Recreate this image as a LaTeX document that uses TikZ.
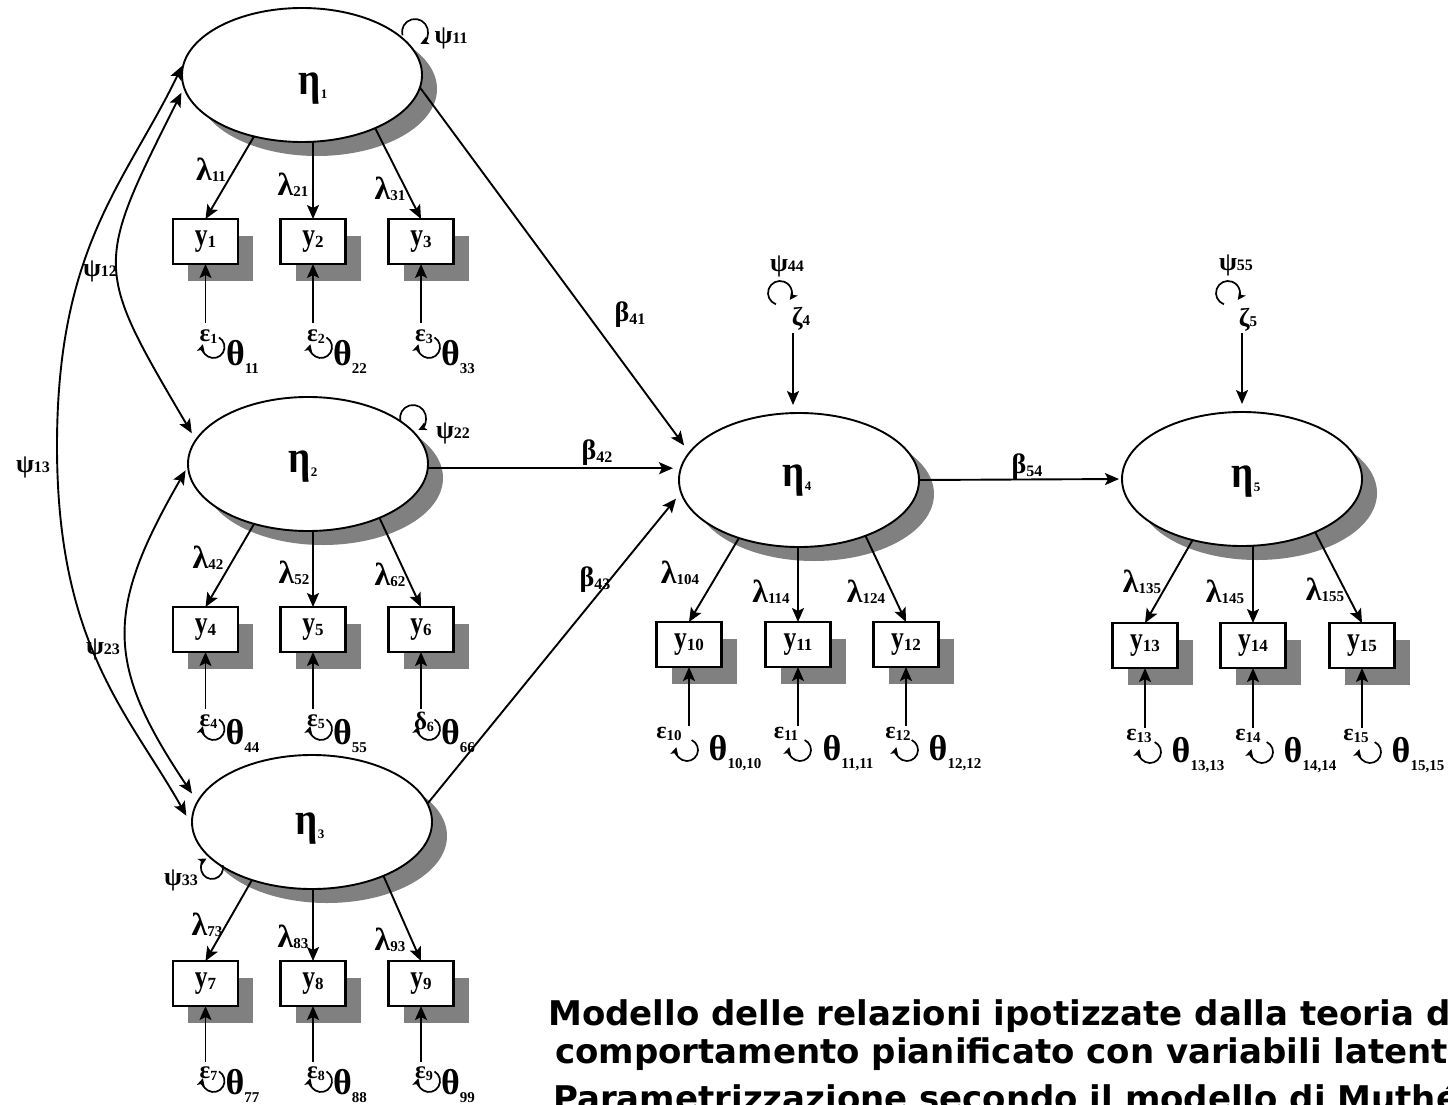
\documentclass[tikz,border=0pt]{standalone}
\usepackage{fontspec}
\setmainfont{Liberation Serif}
\newfontfamily\titlefont{DejaVu Sans}
\usetikzlibrary{arrows.meta,shadows,calc,shapes.geometric}

\newcommand\mylb[5]{{\fontsize{#1}{#1}\selectfont #2}{\fontsize{#3}{#3}\selectfont\raisebox{-#4pt}{#5}}}
\newcommand\xLam[1]{\mylb{32}{λ}{15}{1}{#1}}
\newcommand\xPsi[1]{\mylb{26}{ψ}{16}{0}{#1}}
\newcommand\xThe[1]{\mylb{36}{θ}{15}{8}{#1}}
\newcommand\xEps[1]{\mylb{25}{ε}{14}{2}{#1}}
\newcommand\xEpsB[1]{\mylb{24}{ε}{15}{2}{#1}}
\newcommand\xDel[1]{\mylb{25}{δ}{14}{2}{#1}}
\newcommand\xBet[1]{\mylb{28}{β}{16}{3}{#1}}
\newcommand\xZet[1]{\mylb{26}{ζ}{15}{0}{#1}}
\newcommand\xEta[1]{\mylb{46}{\scalebox{0.85}[1]{η}}{13}{4}{#1}}
\newcommand\xY[1]{\mylb{32}{\scalebox{0.8}[1]{y}}{17}{2}{#1}}

\tikzset{
  lat/.style={ellipse, draw, line width=1.9pt, fill=white, minimum width=240pt, minimum height=134pt,
    inner sep=0pt, outer sep=0pt,
    drop shadow={shadow xshift=15pt, shadow yshift=-14pt, fill=black!50, opacity=1}},
  obs/.style={rectangle, draw, line width=2.3pt, fill=white, minimum width=65pt, minimum height=45pt,
    inner sep=0pt, outer sep=0pt, font=\bfseries,
    drop shadow={shadow xshift=15pt, shadow yshift=-17pt, fill=black!50, opacity=1}},
  lab/.style={inner sep=0pt, font=\bfseries},
  ar/.style={line width=1.9pt, -{Stealth[length=14pt,width=12pt,inset=3pt]}},
  dar/.style={line width=1.9pt, {Stealth[length=14pt,width=12pt,inset=3pt]}-{Stealth[length=14pt,width=12pt,inset=3pt]}},
  lp/.style={line width=1.7pt, -{Stealth[length=8pt,width=8pt,inset=2pt]}},
  ttl/.style={anchor=base west, inner sep=0pt, font=\titlefont\bfseries\fontsize{34}{34}\selectfont}
}

\begin{document}
\begin{tikzpicture}[x=1pt,y=1pt]
\useasboundingbox (0,0) rectangle (1448,-1105);
\clip (0,0) rectangle (1448,-1105);
\fill[white] (0,0) rectangle (1448,-1105);

% latent variables
\node[lat] (e1) at (302,-75) {};
\node[lat] (e2) at (308,-464) {};
\node[lat] (e3) at (312,-822) {};
\node[lat] (e4) at (799,-480) {};
\node[lat] (e5) at (1242,-479) {};
\node[lab] (t1) at (313,-89) {\xEta{1}};
\node[lab] (t2) at (303,-467) {\xEta{2}};
\node[lab] (t3) at (310,-829) {\xEta{3}};
\node[lab] (t4) at (797,-481) {\xEta{4}};
\node[lab] (t5) at (1246,-482) {\xEta{5}};

% observed variables
\foreach \i/\x in {1/205.5,2/313,3/421} \node[obs] (y\i) at (\x,-241.5) {\xY{\i}};
\foreach \i/\x in {4/205.5,5/313,6/421} \node[obs] (y\i) at (\x,-629.5) {\xY{\i}};
\foreach \i/\x in {7/205.5,8/313,9/421} \node[obs] (y\i) at (\x,-983.5) {\xY{\i}};
\foreach \i/\x in {10/689,11/798,12/906} \node[obs] (y\i) at (\x,-644.5) {\xY{\i}};
\foreach \i/\x in {13/1145,14/1253,15/1362} \node[obs] (y\i) at (\x,-645.5) {\xY{\i}};

% loadings
\draw[ar] (e1.232) -- (y1.north);
\draw[ar] (e1.south -| y2.north) -- (y2.north);
\draw[ar] (e1.324) -- (y3.north);
\draw[ar] (e2.228) -- (y4.north);
\draw[ar] (e2.south -| y5.north) -- (y5.north);
\draw[ar] (e2.323) -- (y6.north);
\draw[ar] (e3.224) -- (y7.north);
\draw[ar] (e3.south -| y8.north) -- (y8.north);
\draw[ar] (e3.323) -- (y9.north);
\draw[ar] (e4.224) -- (y10.north);
\draw[ar] (e4.south -| y11.north) -- (y11.north);
\draw[ar] (e4.320) -- (y12.north);
\draw[ar] (e5.231) -- (y13.north);
\draw[ar] (e5.south -| y14.north) -- (y14.north);
\draw[ar] (e5.324) -- (y15.north);

\node[lab] (l11) at (211,-170) {\xLam{11}};
\node[lab] (l21) at (293,-185) {\xLam{21}};
\node[lab] (l31) at (390,-189) {\xLam{31}};
\node[lab] (l42) at (208,-558) {\xLam{42}};
\node[lab] (l52) at (294,-573) {\xLam{52}};
\node[lab] (l62) at (390,-575) {\xLam{62}};
\node[lab] (l73) at (207,-925) {\xLam{73}};
\node[lab] (l83) at (293,-937) {\xLam{83}};
\node[lab] (l93) at (390,-940) {\xLam{93}};
\node[lab] (l104) at (680,-573) {\xLam{104}};
\node[lab] (l114) at (771,-592) {\xLam{114}};
\node[lab] (l124) at (866,-592) {\xLam{124}};
\node[lab] (l135) at (1142,-582) {\xLam{135}};
\node[lab] (l145) at (1225,-592) {\xLam{145}};
\node[lab] (l155) at (1325,-590) {\xLam{155}};

% measurement errors, left block
\foreach \i/\x/\yb/\da/\de/\dl/\dt/\tv/\sym in {
  1/205.5/264/59/73/83/93/11/E, 2/313/264/59/73/83/93/22/E, 3/421/264/59/73/83/93/33/E,
  4/205.5/653/56/69/76/83/44/E, 5/313/653/56/69/76/83/55/E, 6/421/653/56/69/76/83/66/D,
  7/205.5/1007/55/67/74/79/77/E, 8/313/1007/55/67/74/79/88/E, 9/421/1007/55/67/74/79/99/E}{
  \coordinate (u\i) at (\x,-\yb-\da);
  \draw[ar] (u\i) -- (y\i.south);
  \if E\sym
    \node[lab] (ep\i) at (\x+3,-\yb-\de) {\xEps{\i}};
  \else
    \node[lab] (ep\i) at (\x+3,-\yb-\de) {\xDel{\i}};
  \fi
  \draw[lp] (\x+8,-\yb-\dl) ++(60:11) arc[start angle=60, end angle=-195, radius=11];
  \node[lab] (th\i) at (\x+37,-\yb-\dt) {\xThe{\tv}};
}

% measurement errors, right block
\foreach \i/\x/\yb/\ex/\lx in {
  10/689/667/-20/-2, 11/798/667/-12/2, 12/906/667/-8/1,
  13/1145/669/-6/5, 14/1253/669/-5/9, 15/1362/669/-6/8}{
  \coordinate (u\i) at (\x,-\yb-59);
  \draw[ar] (u\i) -- (y\i.south);
  \node[lab] (ep\i) at (\x+\ex,-\yb-67) {\xEpsB{\i}};
  \draw[lp] (\x+\lx,-\yb-83) ++(65:11) arc[start angle=65, end angle=-195, radius=11];
  \node[lab] (th\i) at (\x+\lx+48,-\yb-86) {\xThe{\i,\i}};
}

% structural paths
\draw[ar, shorten >=9pt] (e1.354) -- (e4.166);
\draw[ar, shorten >=6pt] (e2.358) -- (e2.358 -| e4.west);
\draw[ar, shorten >=8pt] (e3.9) -- (e4.186);
\draw[ar, shorten >=3pt] (e4.east) -- (e5.west);
\node[lab] (b41) at (630,-315) {\xBet{41}};
\node[lab] (b42) at (597,-453) {\xBet{42}};
\node[lab] (b43) at (595,-580) {\xBet{43}};
\node[lab] (b54) at (1027,-467) {\xBet{54}};

% disturbances
\coordinate (z4) at (793,-333);
\coordinate (z5) at (1242,-333);
\draw[ar, shorten >=8pt] (z4) -- (z4 |- e4.north);
\draw[ar, shorten >=8pt] (z5) -- (e5.north);
\node[lab] (zt4) at (801,-319) {\xZet{4}};
\node[lab] (zt5) at (1248,-320) {\xZet{5}};
\node[lab] (p44) at (787,-266) {\xPsi{44}};
\node[lab] (p55) at (1236,-265) {\xPsi{55}};
\draw[lp] (780,-293) ++(250:12) arc[start angle=250, end angle=-35, radius=12];
\draw[lp] (1228,-293) ++(250:12) arc[start angle=250, end angle=-35, radius=12];

% latent variances
\draw[lp] (415,-32) ++(195:13) arc[start angle=195, end angle=-65, radius=13];
\draw[lp] (413,-418) ++(195:13) arc[start angle=195, end angle=-65, radius=13];
\draw[lp] (212,-868) ++(15:11) arc[start angle=15, end angle=-240, radius=11];
\node[lab] (p11) at (451,-38) {\xPsi{11}};
\node[lab] (p22) at (453,-433) {\xPsi{22}};
\node[lab] (p33) at (181,-880) {\xPsi{33}};

% covariances
\draw[dar, shorten >=8pt, shorten <=6pt] (e1.186) .. controls (94,-267) and (94,-267) .. (e2.168);
\draw[dar, shorten >=10pt, shorten <=5pt] (e2.181) .. controls (105,-610) and (105,-664) .. (e3.170);
\coordinate (c13) at (57,-446);
\draw[dar, shorten >=12pt, shorten <=8pt] (e1.172) .. controls (126,-182) and (57,-246) .. (c13)
   .. controls (57,-646) and (129,-714) .. (e3.182);
\node[lab] (p12) at (100,-271) {\xPsi{12}};
\node[lab] (p23) at (103,-649) {\xPsi{23}};
\node[lab] (p13) at (33,-467) {\xPsi{13}};

% title
\node[ttl] (ti1) at (548,-1025) {Modello delle relazioni ipotizzate dalla teoria del};
\node[ttl] (ti2) at (555,-1063) {comportamento pianificato con variabili latenti.};
\node[ttl] (ti3) at (553,-1110) {Parametrizzazione secondo il modello di Muthén};
\end{tikzpicture}
\end{document}
